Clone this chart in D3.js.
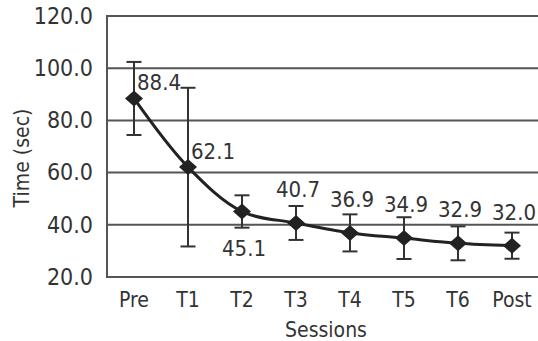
<!DOCTYPE html>
<html>
<head>
<meta charset="utf-8">
<script src="https://cdn.jsdelivr.net/npm/d3@7"></script>
<style>
  body { margin: 0; background: #fff; }
  svg text { font-family: "DejaVu Sans Condensed", "DejaVu Sans", sans-serif; font-stretch: condensed; fill: #333; }
</style>
</head>
<body>
<svg id="chart"></svg>
<script>
var sessions = ["Pre", "T1", "T2", "T3", "T4", "T5", "T6", "Post"];
var meanTime = [88.4, 62.1, 45.1, 40.7, 36.9, 34.9, 32.9, 32.0];
var sdTime = [14.0, 30.4, 6.2, 6.5, 7.1, 8.0, 6.5, 5.0];
var yTicks = [20, 40, 60, 80, 100, 120];
// label offsets: which side of the point the value sits
var labelSide = ["right", "right", "below", "above", "above", "above", "above", "above"];

const width = 538,
	height = 341,
	svg = d3.select('svg#chart')
	.attr('width', width)
	.attr('height', height);

const plotLeft = 107, plotRight = 539, plotTop = 16, plotBottom = 277;

const x = d3.scaleBand()
	.domain(sessions)
	.range([plotLeft, plotRight]);

const y = d3.scaleLinear()
	.domain([20, 120])
	.range([plotBottom, plotTop]);

const cx = d => x(d) + x.bandwidth() / 2;

// gridlines
svg.append('g')
	.selectAll('line')
	.data(yTicks)
	.enter().append('line')
	.attr('x1', plotLeft)
	.attr('x2', width)
	.attr('y1', d => y(d))
	.attr('y2', d => y(d))
	.attr('stroke', '#555')
	.attr('stroke-width', 2);

// left axis line
svg.append('line')
	.attr('x1', plotLeft).attr('x2', plotLeft)
	.attr('y1', plotTop - 1).attr('y2', plotBottom + 1)
	.attr('stroke', '#555')
	.attr('stroke-width', 2);

// y tick labels
const yAxis = d3.axisLeft(y).tickValues(yTicks).tickFormat(d3.format('.1f')).tickSize(0).tickPadding(14);
const yg = svg.append('g').attr('transform', `translate(${plotLeft},0)`).call(yAxis);
yg.select('.domain').remove();
yg.selectAll('text').attr('font-size', 23).attr('font-family', null);

// x tick labels
const xAxis = d3.axisBottom(x).tickSize(0).tickPadding(15);
const xg = svg.append('g').attr('transform', `translate(0,${plotBottom})`).call(xAxis);
xg.select('.domain').remove();
xg.selectAll('text').attr('font-size', 21).attr('font-family', null);

// axis titles
svg.append('text')
	.attr('x', 326)
	.attr('y', 337)
	.attr('text-anchor', 'middle')
	.attr('font-size', 21)
	.text('Sessions');

svg.append('text')
	.attr('transform', 'translate(29,158) rotate(-90)')
	.attr('text-anchor', 'middle')
	.attr('font-size', 21)
	.text('Time (sec)');

// error bars
const pts = sessions.map((s, i) => ({ s: s, m: meanTime[i], sd: sdTime[i], side: labelSide[i] }));

const eb = svg.append('g').selectAll('g').data(pts).enter().append('g');
eb.append('line')
	.attr('x1', d => cx(d.s)).attr('x2', d => cx(d.s))
	.attr('y1', d => y(d.m + d.sd)).attr('y2', d => y(d.m - d.sd))
	.attr('stroke', '#333').attr('stroke-width', 2);
eb.append('line')
	.attr('x1', d => cx(d.s) - 7.5).attr('x2', d => cx(d.s) + 7.5)
	.attr('y1', d => y(d.m + d.sd)).attr('y2', d => y(d.m + d.sd))
	.attr('stroke', '#333').attr('stroke-width', 2);
eb.append('line')
	.attr('x1', d => cx(d.s) - 7.5).attr('x2', d => cx(d.s) + 7.5)
	.attr('y1', d => y(d.m - d.sd)).attr('y2', d => y(d.m - d.sd))
	.attr('stroke', '#333').attr('stroke-width', 2);

// smoothed line
const line = d3.line()
	.x(d => cx(d.s))
	.y(d => y(d.m))
	.curve(d3.curveCatmullRom.alpha(0.5));

svg.append('path')
	.datum(pts)
	.attr('d', line)
	.attr('fill', 'none')
	.attr('stroke', '#222')
	.attr('stroke-width', 3);

// diamond markers
svg.append('g').selectAll('path')
	.data(pts)
	.enter().append('path')
	.attr('d', 'M0,-8L9,0L0,8L-9,0Z')
	.attr('transform', d => `translate(${cx(d.s)},${y(d.m)})`)
	.attr('fill', '#222');

// value labels
svg.append('g').selectAll('text')
	.data(pts)
	.enter().append('text')
	.attr('font-size', 22)
	.attr('text-anchor', d => d.side == 'right' ? 'start' : 'middle')
	.attr('x', d => d.side == 'right' ? cx(d.s) + 3 : cx(d.s) + 2)
	.attr('y', d => {
		if (d.side == 'right') return y(d.m) - 8;
		if (d.side == 'below') return y(d.m) + 45;
		return y(d.m) - 26;
	})
	.text(d => d.m.toFixed(1));
</script>
</body>
</html>
